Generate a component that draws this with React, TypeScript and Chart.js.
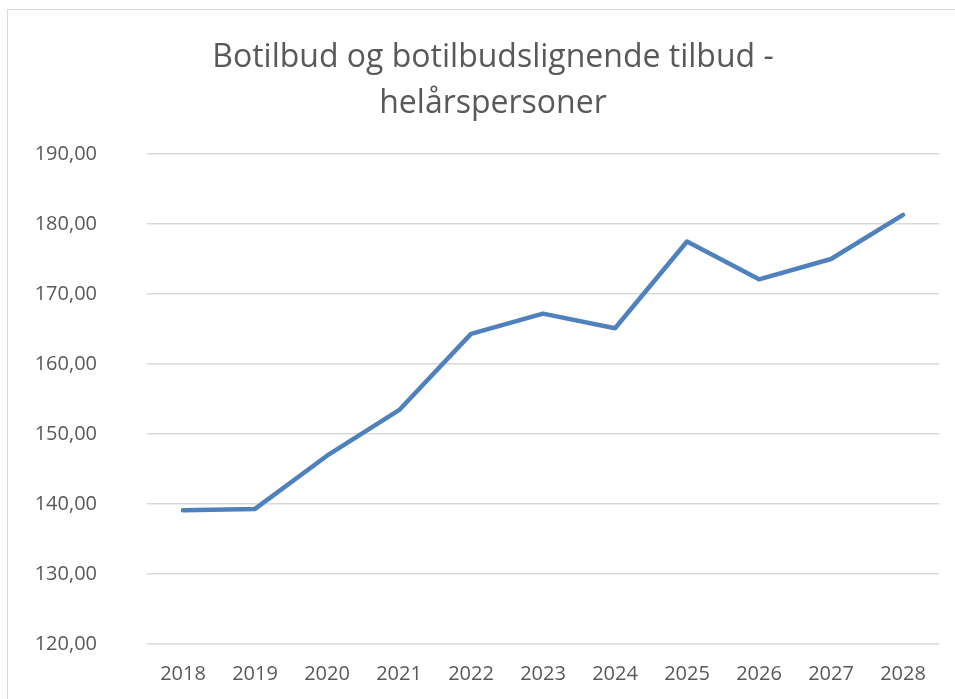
import React, { useEffect, useRef } from "react";
import { Chart, registerables } from "chart.js";

Chart.register(...registerables);

const titleLines = ["Botilbud og botilbudslignende tilbud -", "helårspersoner"];
const years = ["2018", "2019", "2020", "2021", "2022", "2023", "2024", "2025", "2026", "2027", "2028"];
const values = [139.1, 139.3, 146.9, 153.4, 164.3, 167.2, 165.1, 177.5, 172.1, 175.0, 181.3];
const yMin = 120;
const yMax = 190;
const yStep = 10;

const FONT = "'Open Sans', 'Noto Sans', sans-serif";
const TEXT = "#595959";

export default function App() {
  const ref = useRef<HTMLCanvasElement | null>(null);

  useEffect(() => {
    if (!ref.current) return;
    const chart = new Chart(ref.current, {
      type: "line",
      data: {
        labels: years,
        datasets: [
          {
            data: values,
            yAxisID: "y",
            borderColor: "#4f81bd",
            backgroundColor: "#4f81bd",
            borderWidth: 4.5,
            pointRadius: 0,
            pointHoverRadius: 0,
            tension: 0,
            borderCapStyle: "round",
            borderJoinStyle: "round",
          },
        ],
      },
      options: {
        responsive: false,
        animation: false,
        devicePixelRatio: 1,
        layout: { padding: 0 },
        plugins: {
          legend: { display: false },
          tooltip: { enabled: false },
          title: {
            display: true,
            text: titleLines,
            color: TEXT,
            font: { family: FONT, size: 32, weight: "normal", lineHeight: "46px" },
            padding: { top: 25, bottom: 27 },
          },
        },
        scales: {
          x: {
            offset: true,
            grid: { display: false, drawTicks: false },
            border: { display: false },
            ticks: {
              color: TEXT,
              font: { family: FONT, size: 20 },
              padding: 18,
              maxRotation: 0,
            },
            afterFit: (s: any) => {
              s.height = 76;
            },
          },
          y: {
            position: "left",
            min: yMin,
            max: yMax,
            grid: { color: "#d9d9d9", lineWidth: 1.5, drawTicks: false },
            border: { display: false },
            ticks: {
              stepSize: yStep,
              color: TEXT,
              font: { family: FONT, size: 20 },
              padding: 50,
              callback: (v: any) => Number(v).toFixed(2).replace(".", ","),
            },
            afterFit: (s: any) => {
              s.width = 139;
            },
          },
          yRight: {
            position: "right",
            display: true,
            grid: { display: false, drawTicks: false },
            border: { display: false },
            ticks: { display: false },
            afterFit: (s: any) => {
              s.width = 39;
            },
          },
        },
      },
    });
    return () => chart.destroy();
  }, []);

  return (
    <div
      style={{
        position: "fixed",
        left: 0,
        top: 0,
        width: 955,
        height: 699,
        overflow: "hidden",
        background: "#ffffff",
      }}
    >
      <div
        style={{
          position: "absolute",
          left: 7,
          top: 9,
          width: 1000,
          height: 800,
          border: "1.5px solid #d9d9d9",
          boxSizing: "border-box",
          background: "#ffffff",
        }}
      >
        <canvas ref={ref} width={970} height={710} style={{ display: "block" }} />
      </div>
    </div>
  );
}
